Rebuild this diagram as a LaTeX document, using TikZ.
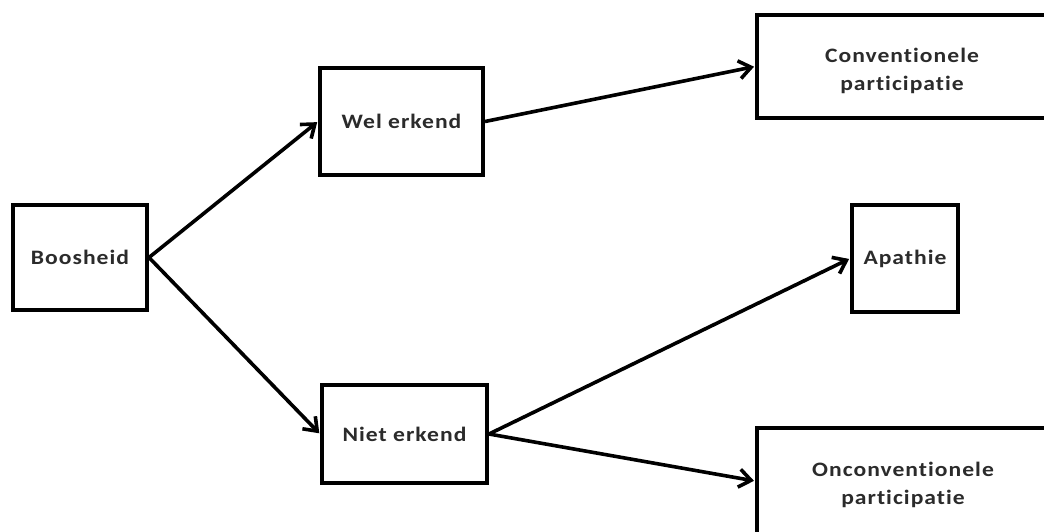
\documentclass[tikz,border=0pt]{standalone}
\usepackage{fontspec}
\setmainfont{Carlito}[FakeStretch=1.15,LetterSpace=5,Ligatures={NoCommon}]
\usetikzlibrary{arrows.meta}
\definecolor{txt}{HTML}{2B2B2B}
\tikzset{
  box/.style={draw=black, line width=4pt, fill=white, rectangle, inner sep=0pt,
    align=center, text=txt, font=\fontsize{20.5}{28}\selectfont\bfseries},
  twoline/.style={text height=50pt, text depth=3pt},
  conn/.style={line width=3.6pt, -{Straight Barb[length=12pt,width=18pt,line width=3.6pt]}, shorten >=1pt}
}
\begin{document}
\begin{tikzpicture}[x=1pt,y=-1pt]
\useasboundingbox (0,0) rectangle (1044,531);
\clip (0,0) rectangle (1044,531);
\fill[white] (0,0) rectangle (1044,531);
\node[box, minimum width=134pt, minimum height=105pt] (boos) at (80,257.5) {Boosheid};
\node[box, minimum width=163pt, minimum height=107pt] (wel) at (401.5,121.5) {Wel erkend};
\node[box, minimum width=165pt, minimum height=98pt] (niet) at (404.5,434) {Niet erkend};
\node[box, twoline, minimum width=290pt, minimum height=103pt] (conv) at (902,66.5) {Conventionele\\participatie};
\node[box, minimum width=106pt, minimum height=107pt] (apa) at (905,258.5) {Apathie};
\node[box, twoline, minimum width=292pt, minimum height=106pt] (oncv) at (903,481) {Onconventionele\\participatie};
\draw[conn] (boos.east) -- (wel.west);
\draw[conn] (boos.east) -- (niet.west);
\draw[conn] (wel.east) -- (conv.west);
\draw[conn] (niet.east) -- (apa.west);
\draw[conn] (niet.east) -- (oncv.west);
\end{tikzpicture}
\end{document}
